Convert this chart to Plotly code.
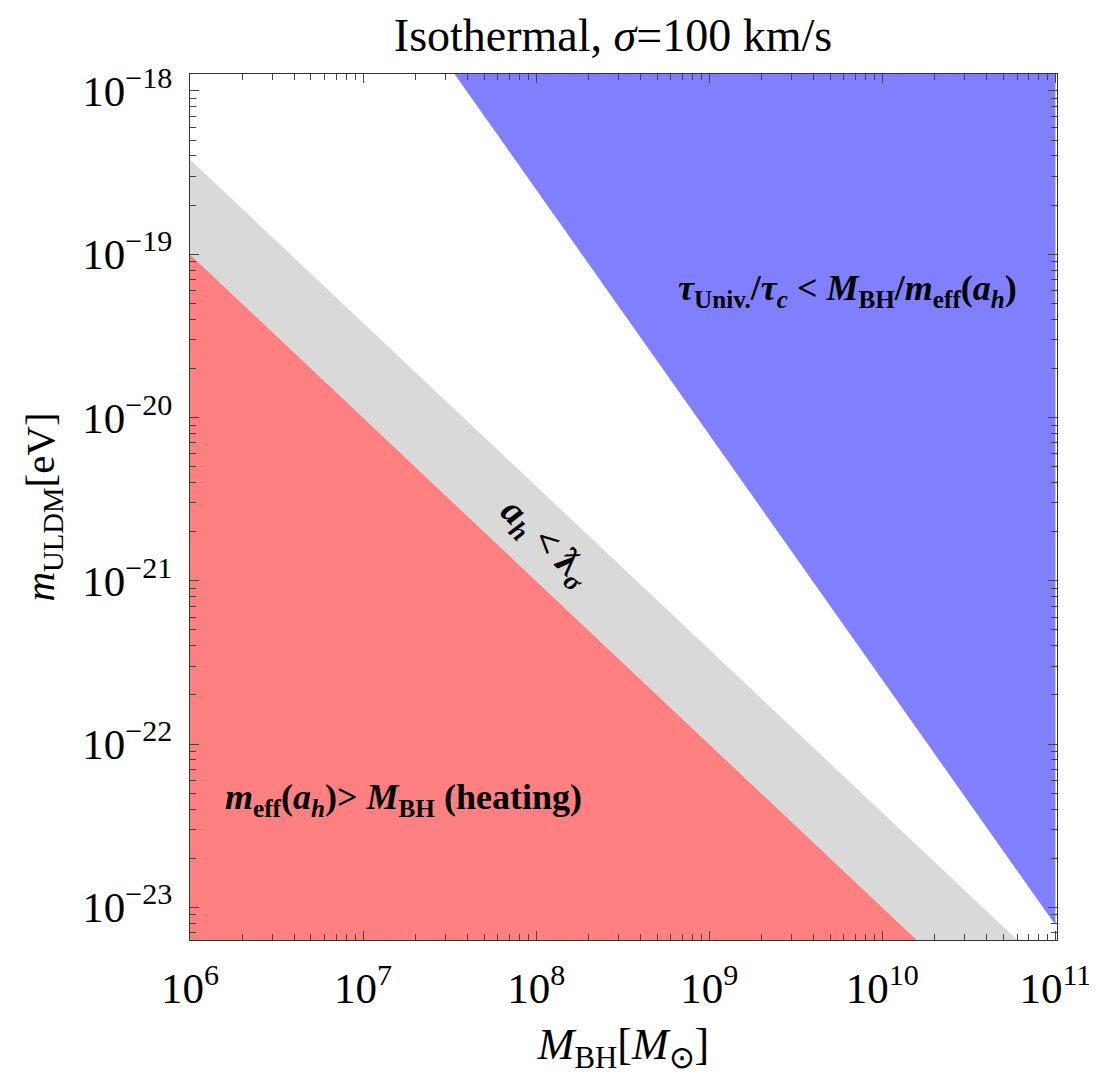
import numpy as np
import plotly.graph_objects as go

# ---- data ----
M_BH = [1e6, 1e11]                      # black hole mass grid [M_sun]
m_heating = [1e-19, 1e-24]             # m_eff(a_h) = M_BH boundary
m_lambda = [3.8e-19, 3.8e-24]          # a_h = lambda_sigma boundary
m_relax = [2.5e-16, 7.8e-24]           # tau_Univ/tau_c = M_BH/m_eff boundary
m_floor = 1e-26
m_ceil = 1e-15

x_decades = [6, 7, 8, 9, 10, 11]
y_decades = [-23, -22, -21, -20, -19, -18]

RED = "rgb(255,128,128)"
GRAY = "rgb(217,217,217)"
BLUE = "rgb(128,128,255)"
FONT = "Liberation Serif"

fig = go.Figure()
# heating region
fig.add_trace(go.Scatter(x=M_BH + M_BH[::-1], y=m_heating + [m_floor, m_floor],
                         fill="toself", fillcolor=RED, mode="none", hoverinfo="skip"))
# a_h < lambda band
fig.add_trace(go.Scatter(x=M_BH + M_BH[::-1], y=m_lambda + m_heating[::-1],
                         fill="toself", fillcolor=GRAY, mode="none", hoverinfo="skip"))
# relaxation region
fig.add_trace(go.Scatter(x=M_BH + M_BH[::-1], y=m_relax + [m_ceil, m_ceil],
                         fill="toself", fillcolor=BLUE, mode="none", hoverinfo="skip"))

def minor_vals(decs):
    out = []
    for d in range(decs[0] - 1, decs[-1] + 1):
        for k in range(2, 10):
            out.append(k * 10.0 ** d)
    return out

tickfont = dict(family=FONT, size=43, color="black")
axis_common = dict(type="log", showgrid=False, zeroline=False, showline=True,
                   linecolor="#333", linewidth=1.3, mirror="ticks",
                   ticks="inside", ticklen=9, tickwidth=1.3, tickcolor="#444",
                   tickfont=tickfont)

fig.update_xaxes(**axis_common, range=[6, 11.009],
                 tickvals=[10.0 ** d for d in x_decades],
                 ticktext=[f"10<sup>{d}</sup>" for d in x_decades],
                 minor=dict(tickvals=minor_vals(x_decades), ticks="inside", ticklen=6,
                            tickwidth=1.2, tickcolor="#444"),
                 ticklabelstandoff=10,
                 title=dict(text="<i>M</i><sub>BH</sub>[<i>M</i><sub>⊙</sub>]",
                            font=dict(family=FONT, size=44, color="black"), standoff=17))
fig.update_yaxes(**axis_common, range=[-23.2, -17.896],
                 tickvals=[10.0 ** d for d in y_decades],
                 ticktext=[f"10<sup>−{-d}</sup>" for d in y_decades],
                 minor=dict(tickvals=minor_vals(y_decades), ticks="inside", ticklen=6,
                            tickwidth=1.2, tickcolor="#444"),
                 ticklabelstandoff=8,
                 title=dict(text="<i>m</i><sub>ULDM</sub>[eV]",
                            font=dict(family=FONT, size=41, color="black"), standoff=14))

ann_font = dict(family=FONT, size=36, color="black")
fig.add_annotation(x=np.log10(6.3e9), y=np.log10(6.0e-20), xref="x", yref="y",
                   text="<b><i>τ</i><sub>Univ.</sub>/<i>τ<sub>c</sub></i> &lt; <i>M</i><sub>BH</sub>/<i>m</i><sub>eff</sub>(<i>a<sub>h</sub></i>)</b>",
                   showarrow=False, font=ann_font)
fig.add_annotation(x=np.log10(1.71e7), y=np.log10(4.6e-23), xref="x", yref="y",
                   text="<b><i>m</i><sub>eff</sub>(<i>a<sub>h</sub></i>)&gt; <i>M</i><sub>BH</sub> (heating)</b>",
                   showarrow=False, font=ann_font)
fig.add_annotation(x=np.log10(1.12e8), y=np.log10(1.7e-21), xref="x", yref="y",
                   text="<b><i>a<sub>h</sub></i> &lt; ƛ<sub><i>σ</i></sub></b>",
                   showarrow=False, textangle=43, font=dict(family=FONT, size=38, color="black"))

fig.update_layout(
    width=1097, height=1078,
    margin=dict(l=182, r=48, t=66, b=146),
    paper_bgcolor="white", plot_bgcolor="white",
    showlegend=False,
    title=dict(text="Isothermal, <i>σ</i>=100 km/s", x=0.5515, xanchor="center",
               y=0.975, yanchor="middle",
               font=dict(family=FONT, size=46, color="black")),
)

fig.write_html("out.html")
